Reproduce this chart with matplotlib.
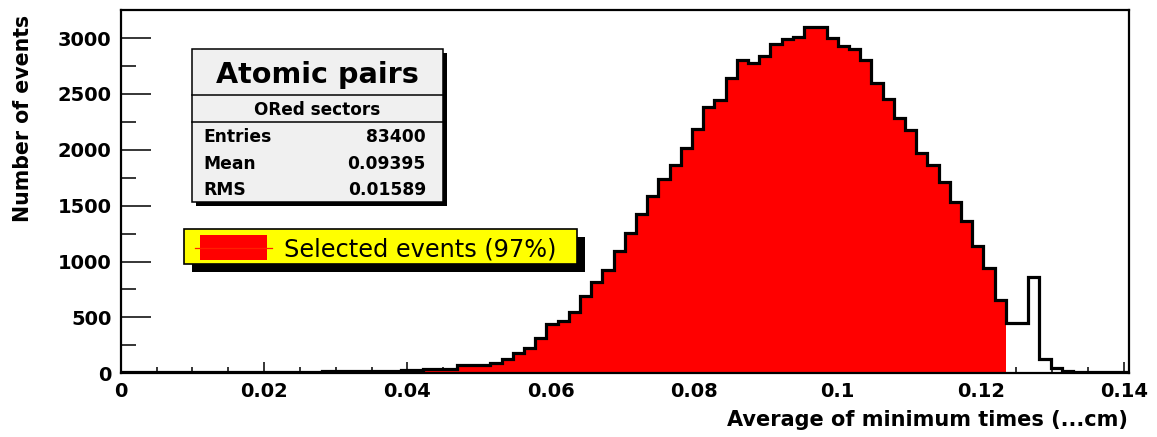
import numpy as np
import matplotlib
matplotlib.use("Agg")
import matplotlib.pyplot as plt
from matplotlib.patches import Rectangle
from matplotlib.ticker import MultipleLocator

# ---------------- data ----------------
counts = [
    8, 10, 9, 11, 10, 9, 10, 12, 11, 10,            # bins 0-9
    12, 11, 13, 12, 14, 13, 15, 16, 20, 22,         # 10-19
    21, 23, 24, 25, 24, 30, 31, 38, 40, 42,         # 20-29
    70, 72, 75, 95, 125, 180, 230, 320, 440, 470,   # 30-39
    553, 690, 821, 923, 1098, 1254, 1422, 1591, 1737, 1866,   # 40-49
    2020, 2187, 2382, 2444, 2641, 2805, 2776, 2835, 2948, 2990,  # 50-59
    3008, 3100, 3100, 2999, 2933, 2904, 2805, 2597, 2456, 2283,  # 60-69
    2179, 1975, 1866, 1710, 1529, 1359, 1141, 941, 658, 449,     # 70-79
    449, 866, 127, 46, 18, 16, 15, 14, 14, 13,                   # 80-89
]
x_min, x_max = 0.0, 0.1407
n_bins = 90
n_selected = 79          # bins kept by the selection (filled red)

x_ticks = [0, 0.02, 0.04, 0.06, 0.08, 0.1, 0.12, 0.14]
x_tick_labels = ["0", "0.02", "0.04", "0.06", "0.08", "0.1", "0.12", "0.14"]
y_ticks = [0, 500, 1000, 1500, 2000, 2500, 3000]
y_tick_labels = ["0", "500", "1000", "1500", "2000", "2500", "3000"]
y_max = 3251

x_title = "Average of minimum times (...cm)"
y_title = "Number of events"
stats_title = "Atomic pairs"
stats_subtitle = "ORed sectors"
stats_names = ["Entries", "Mean", "RMS"]
stats_values = ["83400", "0.09395", "0.01589"]
legend_label = "Selected events (97%)"

# ---------------- figure ----------------
W, H = 1157, 437
fig = plt.figure(figsize=(W / 100, H / 100), dpi=100)
fig.patch.set_facecolor("white")

L, R, T, B = 120.7, 1129.0, 10.0, 373.3
ax = fig.add_axes([L / W, 1 - B / H, (R - L) / W, (B - T) / H])

edges = np.linspace(x_min, x_max, n_bins + 1)
vals = np.asarray(counts, dtype=float)

ax.stairs(vals[:n_selected], edges[:n_selected + 1], fill=True,
          facecolor="#ff0000", edgecolor="none", lw=0, zorder=2)
ax.stairs(vals, edges, color="black", lw=2.3, baseline=None, zorder=3)

ax.set_xlim(x_min, x_max)
ax.set_ylim(0, y_max)

ax.set_xticks(x_ticks, x_tick_labels)
ax.set_yticks(y_ticks, y_tick_labels)
ax.xaxis.set_minor_locator(MultipleLocator(0.005))
ax.yaxis.set_minor_locator(MultipleLocator(250))

for s in ax.spines.values():
    s.set_linewidth(1.6)
    s.set_color("black")

ax.tick_params(axis="x", which="major", direction="in", length=8, width=1.1,
               pad=6, labelsize=14)
ax.tick_params(axis="x", which="minor", direction="in", length=4, width=1.1)
ax.tick_params(axis="y", which="major", direction="in", length=21.6, width=1.1,
               pad=6.5, labelsize=14)
ax.tick_params(axis="y", which="minor", direction="in", length=10.8, width=1.1)
for lab in ax.get_xticklabels() + ax.get_yticklabels():
    lab.set_fontweight("bold")

# ---------------- overlay in pixel coordinates ----------------
ov = fig.add_axes([0, 0, 1, 1], zorder=10)
ov.set_xlim(0, W)
ov.set_ylim(H, 0)
ov.set_axis_off()
ov.patch.set_alpha(0)

# axis titles
ov.text(1128, 426, x_title, ha="right", va="baseline", fontsize=15,
        fontweight="bold")
ov.text(33, 15, y_title, ha="right", va="bottom", rotation=90,
        rotation_mode="anchor", fontsize=14.8, fontweight="bold")

# stats box
bx0, bx1, by0, by1 = 191.7, 442.7, 49.3, 201.7
ov.add_patch(Rectangle((bx0 + 4, by0 + 4), bx1 - bx0, by1 - by0,
                       facecolor="black", edgecolor="none"))
ov.add_patch(Rectangle((bx0, by0), bx1 - bx0, by1 - by0,
                       facecolor="#f0f0f0", edgecolor="black", lw=1.1))
ov.plot([bx0, bx1], [95, 95], color="black", lw=1.1)
ov.plot([bx0, bx1], [121.7, 121.7], color="black", lw=1.1)
xc = (bx0 + bx1) / 2
ov.text(xc, 83.3, stats_title, ha="center", va="baseline", fontsize=20.6,
        fontweight="bold")
ov.text(xc, 115, stats_subtitle, ha="center", va="baseline", fontsize=12.2,
        fontweight="bold")
for name, val, yb in zip(stats_names, stats_values, [141.7, 169.3, 195.0]):
    ov.text(203.3, yb, name, ha="left", va="baseline", fontsize=12.3,
            fontweight="bold")
    ov.text(426, yb, val, ha="right", va="baseline", fontsize=12.3,
            fontweight="bold")

# legend box
lx0, lx1, ly0, ly1 = 184, 576.7, 229.3, 264
ov.add_patch(Rectangle((lx0 + 8, ly0 + 7.5), lx1 - lx0, ly1 - ly0,
                       facecolor="black", edgecolor="none"))
ov.add_patch(Rectangle((lx0, ly0), lx1 - lx0, ly1 - ly0,
                       facecolor="#ffff00", edgecolor="black", lw=1.2))
ov.plot([195, 272], [247.5, 247.5], color="#ff2000", lw=0.9)
ov.add_patch(Rectangle((200, 235), 66.7, 25, facecolor="#ff0000",
                       edgecolor="none"))
ov.text(284, 256.7, legend_label, ha="left", va="baseline", fontsize=17.3)

fig.savefig("out.png", dpi=100)
